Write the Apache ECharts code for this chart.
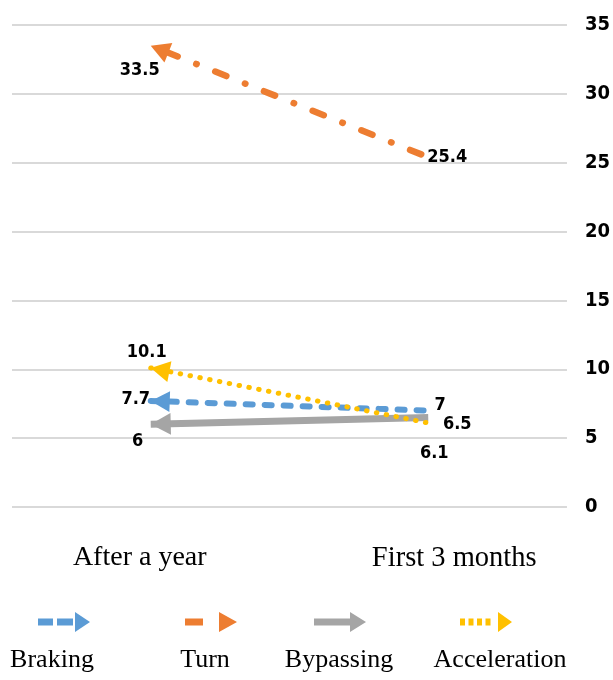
<!DOCTYPE html>
<html>
<head>
<meta charset="utf-8">
<script src="https://cdn.jsdelivr.net/npm/echarts@6/dist/echarts.min.js"></script>
<style>
  html, body { margin: 0; padding: 0; background: #ffffff; }
  #chart { width: 613px; height: 680px; }
</style>
</head>
<body>
<div id="chart"></div>
<script>
// Categories along the horizontal axis (arrows point towards "After a year")
const categories = ['After a year', 'First 3 months'];

// Values per manoeuvre: [After a year, First 3 months]
const seriesNames = ['Braking', 'Turn', 'Bypassing', 'Acceleration'];
const braking = [7.7, 7];
const turn = [33.5, 25.4];
const bypassing = [6, 6.5];
const acceleration = [10.1, 6.1];

// Value axis ticks
const yMin = 0;
const yMax = 35;
const yStep = 5;

const seriesValues = [braking, turn, bypassing, acceleration];
const colors = ['#5B9BD5', '#ED7D31', '#A5A5A5', '#FFC000'];

const NARROW = "'Liberation Sans Narrow', 'Arial Narrow', 'DejaVu Sans Condensed', sans-serif";
const SERIF = "'Liberation Serif', 'Times New Roman', serif";

// Line looks for each manoeuvre
const lineStyles = [
  { width: 6, type: [7, 12], cap: 'round' },
  { width: 6.5, type: [12, 20, 0.5, 20], dashOffset: 35.5, cap: 'round' },
  { width: 7, type: 'solid', cap: 'butt' },
  { width: 5, type: [0.5, 9.5], cap: 'round' }
];

// Label placement relative to each end point: [start (After a year), end (First 3 months)]
const labelOffsets = [
  [[-15, -2], [12, -5]],
  [[-11, 25], [19, 0]],
  [[-13, 17], [29, 7]],
  [[-4, -16], [6, 30]]
];

// Arrow head: tip sits at the centre of the symbol box so it lands on the data point
const ARROW = 'path://M0,10 M18,10 L36,0 L36,20 Z';
const arrowSizes = [[38, 21], [38, 21], [40, 22], [38, 21]];

// Legend glyphs: dashed/dotted strokes ending in an arrow head
const legendIcons = [
  'path://M0,6.5h15v7h-15z M19,6.5h16v7h-16z M37,0 L52,10 L37,20 Z',
  'path://M0,6.5h18v7h-18z M34,0 L52,10 L34,20 Z',
  'path://M0,6.5h38v7h-38z M36,0 L52,10 L36,20 Z',
  'path://M0,6.5h5v7h-5z M8.5,6.5h5v7h-5z M17,6.5h5v7h-5z M25.5,6.5h5v7h-5z M38,0 L52,10 L38,20 Z'
];
const legendLeft = [38, 185, 314, 460];
const legendLabelX = [52, 205, 339, 500];

function labelFor(text, offset) {
  return {
    show: true,
    position: 'inside',
    offset: offset,
    formatter: String(text),
    color: '#000',
    fontFamily: NARROW,
    fontWeight: 'bold',
    fontSize: 18
  };
}

function buildOption(rotations) {
  return {
    animation: false,
    backgroundColor: '#ffffff',
    grid: { left: 12, right: 45, top: 25, bottom: 173 },
    xAxis: {
      type: 'category',
      data: categories,
      boundaryGap: true,
      axisLine: { show: false },
      axisTick: { show: false },
      splitLine: { show: false },
      axisLabel: {
        margin: 37,
        color: '#000',
        fontFamily: SERIF,
        fontSize: 28,
        formatter: (v, i) => (i === 0 ? '{a|' + v + '}' : '{b|' + v + '}'),
        rich: {
          a: { fontFamily: SERIF, fontSize: 28, color: '#000', padding: [0, 22, 0, 0] },
          b: { fontFamily: SERIF, fontSize: 28.5, color: '#000', padding: [0, 0, 0, 52] }
        }
      }
    },
    yAxis: {
      type: 'value',
      position: 'right',
      min: yMin,
      max: yMax,
      interval: yStep,
      axisLine: { show: false },
      axisTick: { show: false },
      splitLine: { lineStyle: { color: '#d9d9d9', width: 2 } },
      axisLabel: {
        margin: 18,
        color: '#000',
        fontFamily: NARROW,
        fontWeight: 'bold',
        fontSize: 20
      }
    },
    legend: seriesNames.map((name, i) => ({
      data: [{ name: name, icon: legendIcons[i] }],
      left: legendLeft[i],
      top: 612,
      padding: 0,
      itemWidth: 52,
      itemHeight: 20,
      selectedMode: false,
      formatter: () => '',
      textStyle: { fontSize: 1 }
    })),
    graphic: seriesNames.map((name, i) => ({
      type: 'text',
      x: legendLabelX[i],
      y: 660,
      silent: true,
      style: {
        text: name,
        fill: '#000',
        font: '26px ' + SERIF,
        align: 'center',
        verticalAlign: 'middle'
      }
    })),
    series: seriesNames.map((name, i) => ({
      name: name,
      type: 'line',
      color: colors[i],
      itemStyle: { color: colors[i] },
      lineStyle: Object.assign({ color: colors[i] }, lineStyles[i]),
      emphasis: { disabled: true },
      z: 2 + i,
      data: [
        {
          value: seriesValues[i][0],
          symbol: ARROW,
          symbolSize: arrowSizes[i],
          symbolRotate: rotations ? rotations[i] : 0,
          label: labelFor(seriesValues[i][0], labelOffsets[i][0])
        },
        {
          value: seriesValues[i][1],
          symbol: 'circle',
          symbolSize: 1,
          itemStyle: { color: 'rgba(0,0,0,0)' },
          label: labelFor(seriesValues[i][1], labelOffsets[i][1])
        }
      ]
    }))
  };
}

const chart = echarts.init(document.getElementById('chart'), null, { renderer: 'canvas' });
chart.setOption(buildOption(null));

// Turn each arrow head along its own segment using the chart's scales
const rotations = seriesValues.map((vals) => {
  const p0 = chart.convertToPixel({ gridIndex: 0 }, [0, vals[0]]);
  const p1 = chart.convertToPixel({ gridIndex: 0 }, [1, vals[1]]);
  const dx = p0[0] - p1[0];
  const dy = p0[1] - p1[1];
  const angle = Math.atan2(-dy, dx) * 180 / Math.PI;
  return angle - 180;
});
chart.setOption(buildOption(rotations));
</script>
</body>
</html>
